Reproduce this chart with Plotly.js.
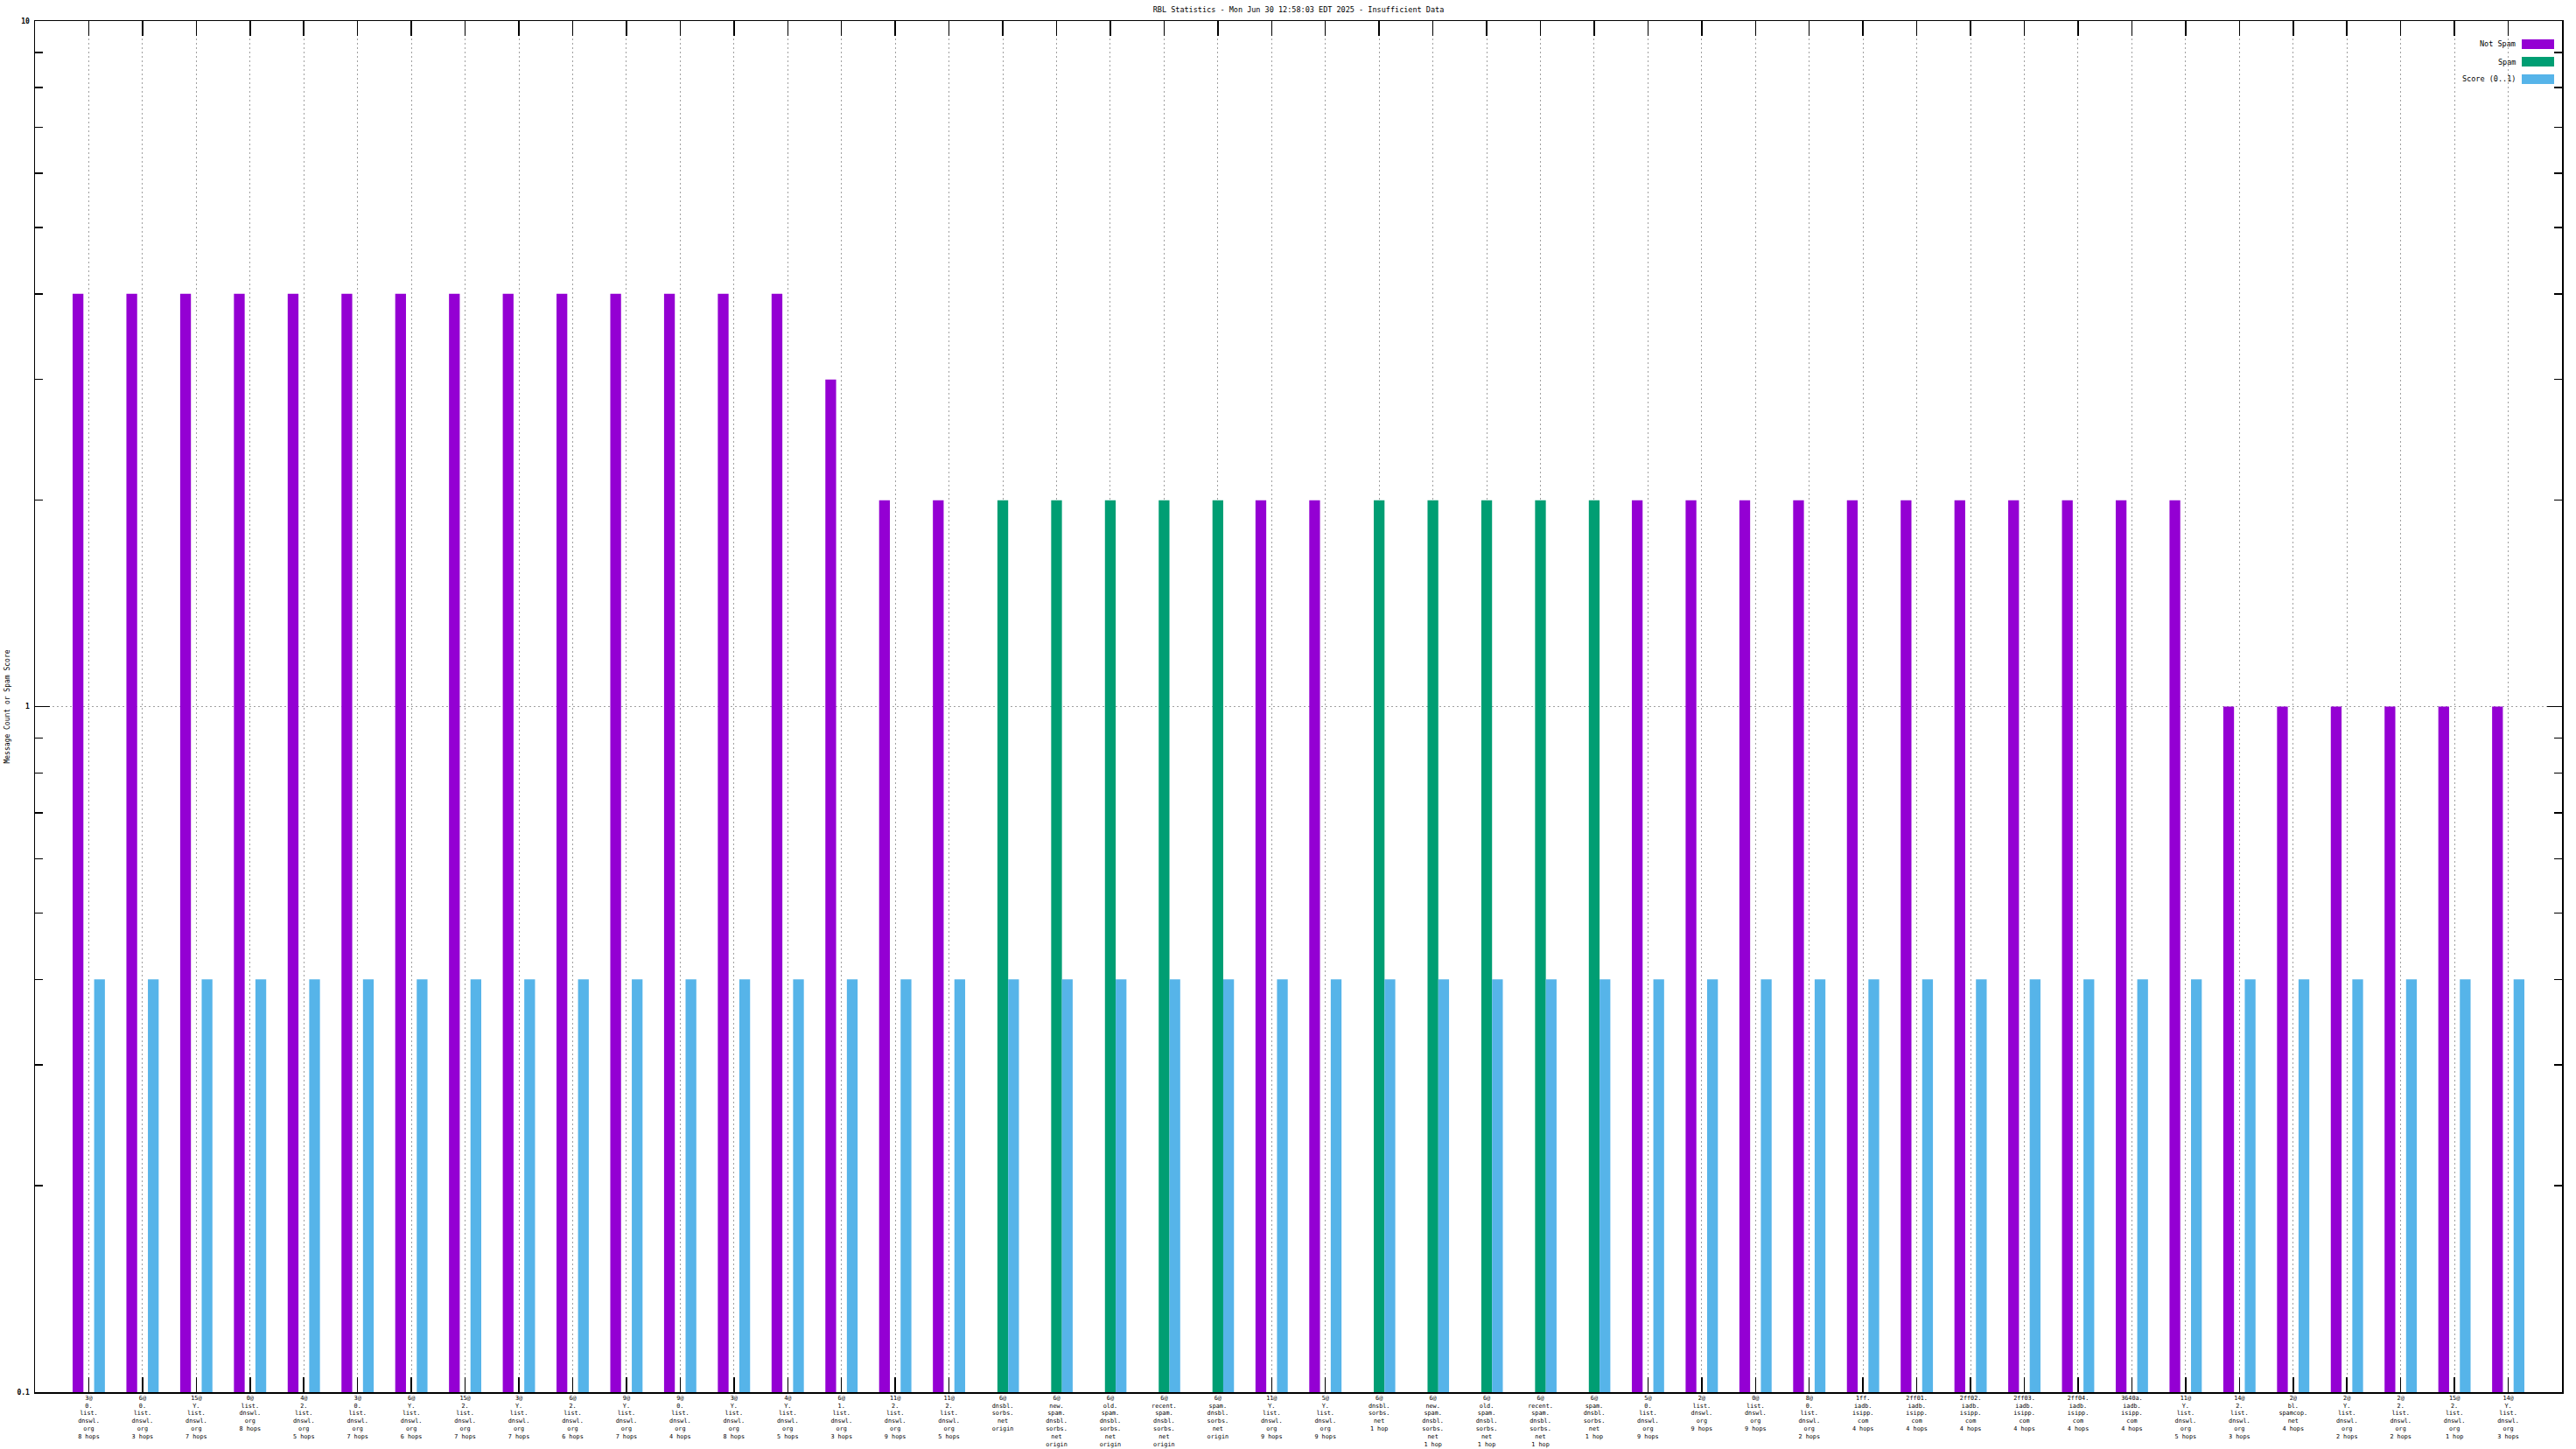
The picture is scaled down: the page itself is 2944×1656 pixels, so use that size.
<!DOCTYPE html>
<html>
<head>
<meta charset="utf-8">
<script src="https://cdn.plot.ly/plotly-3.0.1.min.js"></script>
<style>
html,body{margin:0;padding:0;background:#fff;}
#chart{width:2944px;height:1656px;}
</style>
</head>
<body>
<div id="chart"></div>
<script>
// ---- data ----
const categories = [
  "3@<br>0.<br>list.<br>dnswl.<br>org<br>8 hops",
  "6@<br>0.<br>list.<br>dnswl.<br>org<br>3 hops",
  "15@<br>Y.<br>list.<br>dnswl.<br>org<br>7 hops",
  "0@<br>list.<br>dnswl.<br>org<br>8 hops",
  "4@<br>2.<br>list.<br>dnswl.<br>org<br>5 hops",
  "3@<br>0.<br>list.<br>dnswl.<br>org<br>7 hops",
  "6@<br>Y.<br>list.<br>dnswl.<br>org<br>6 hops",
  "15@<br>2.<br>list.<br>dnswl.<br>org<br>7 hops",
  "3@<br>Y.<br>list.<br>dnswl.<br>org<br>7 hops",
  "6@<br>2.<br>list.<br>dnswl.<br>org<br>6 hops",
  "9@<br>Y.<br>list.<br>dnswl.<br>org<br>7 hops",
  "9@<br>0.<br>list.<br>dnswl.<br>org<br>4 hops",
  "3@<br>Y.<br>list.<br>dnswl.<br>org<br>8 hops",
  "4@<br>Y.<br>list.<br>dnswl.<br>org<br>5 hops",
  "6@<br>1.<br>list.<br>dnswl.<br>org<br>3 hops",
  "11@<br>2.<br>list.<br>dnswl.<br>org<br>9 hops",
  "11@<br>2.<br>list.<br>dnswl.<br>org<br>5 hops",
  "6@<br>dnsbl.<br>sorbs.<br>net<br>origin",
  "6@<br>new.<br>spam.<br>dnsbl.<br>sorbs.<br>net<br>origin",
  "6@<br>old.<br>spam.<br>dnsbl.<br>sorbs.<br>net<br>origin",
  "6@<br>recent.<br>spam.<br>dnsbl.<br>sorbs.<br>net<br>origin",
  "6@<br>spam.<br>dnsbl.<br>sorbs.<br>net<br>origin",
  "11@<br>Y.<br>list.<br>dnswl.<br>org<br>9 hops",
  "5@<br>Y.<br>list.<br>dnswl.<br>org<br>9 hops",
  "6@<br>dnsbl.<br>sorbs.<br>net<br>1 hop",
  "6@<br>new.<br>spam.<br>dnsbl.<br>sorbs.<br>net<br>1 hop",
  "6@<br>old.<br>spam.<br>dnsbl.<br>sorbs.<br>net<br>1 hop",
  "6@<br>recent.<br>spam.<br>dnsbl.<br>sorbs.<br>net<br>1 hop",
  "6@<br>spam.<br>dnsbl.<br>sorbs.<br>net<br>1 hop",
  "5@<br>0.<br>list.<br>dnswl.<br>org<br>9 hops",
  "2@<br>list.<br>dnswl.<br>org<br>9 hops",
  "0@<br>list.<br>dnswl.<br>org<br>9 hops",
  "8@<br>0.<br>list.<br>dnswl.<br>org<br>2 hops",
  "1ff.<br>iadb.<br>isipp.<br>com<br>4 hops",
  "2ff01.<br>iadb.<br>isipp.<br>com<br>4 hops",
  "2ff02.<br>iadb.<br>isipp.<br>com<br>4 hops",
  "2ff03.<br>iadb.<br>isipp.<br>com<br>4 hops",
  "2ff04.<br>iadb.<br>isipp.<br>com<br>4 hops",
  "3640a.<br>iadb.<br>isipp.<br>com<br>4 hops",
  "11@<br>Y.<br>list.<br>dnswl.<br>org<br>5 hops",
  "14@<br>2.<br>list.<br>dnswl.<br>org<br>3 hops",
  "2@<br>bl.<br>spamcop.<br>net<br>4 hops",
  "2@<br>Y.<br>list.<br>dnswl.<br>org<br>2 hops",
  "2@<br>2.<br>list.<br>dnswl.<br>org<br>2 hops",
  "15@<br>2.<br>list.<br>dnswl.<br>org<br>1 hop",
  "14@<br>Y.<br>list.<br>dnswl.<br>org<br>3 hops"
];
const notSpam = [4,4,4,4,4,4,4,4,4,4,4,4,4,4,3,2,2,0,0,0,0,0,2,2,0,0,0,0,0,2,2,2,2,2,2,2,2,2,2,2,1,1,1,1,1,1];
const spam    = [0,0,0,0,0,0,0,0,0,0,0,0,0,0,0,0,0,2,2,2,2,2,0,0,2,2,2,2,2,0,0,0,0,0,0,0,0,0,0,0,0,0,0,0,0,0];
const score   = [0.4,0.4,0.4,0.4,0.4,0.4,0.4,0.4,0.4,0.4,0.4,0.4,0.4,0.4,0.4,0.4,0.4,0.4,0.4,0.4,0.4,0.4,0.4,0.4,0.4,0.4,0.4,0.4,0.4,0.4,0.4,0.4,0.4,0.4,0.4,0.4,0.4,0.4,0.4,0.4,0.4,0.4,0.4,0.4,0.4,0.4];
const seriesNames = ["Not Spam","Spam","Score (0..1)"];
const seriesColors = ["#9400d3","#009e73","#56b4e9"];
const yTickVals = [0.1,1,10];
const yTickText = ["0.1","1","10"];
const yMinorVals = [0.2,0.3,0.4,0.5,0.6,0.7,0.8,0.9,2,3,4,5,6,7,8,9];
const titleText = "RBL Statistics - Mon Jun 30 12:58:03 EDT 2025 - Insufficient Data";
const yTitleText = "Message Count or Spam Score";

// ---- chart ----
const FONT = "DejaVu Sans Mono, monospace";
const pos = v => (v > 0 ? v : null);
const seriesData = [notSpam, spam, score];
const traces = seriesData.map((vals, i) => ({
  type: 'bar',
  name: seriesNames[i],
  x: categories,
  y: vals.map(pos),
  marker: {color: seriesColors[i], line: {width: 0}},
  showlegend: false,
  hoverinfo: 'x+y+name'
}));

// manual legend (text left of swatch, gnuplot style)
const W = 2944, H = 1656;
const M = {l: 40, r: 16, t: 24, b: 65};
const pw = W - M.l - M.r, ph = H - M.t - M.b;
const px = x => (x - M.l) / pw;
const py = y => (H - M.b - y) / ph;
const shapes = [], annotations = [];
seriesNames.forEach((n, i) => {
  const top = 45 + i * 20;
  shapes.push({type: 'rect', xref: 'paper', yref: 'paper',
    x0: px(2882), x1: px(2919), y0: py(top + 11), y1: py(top),
    fillcolor: seriesColors[i], line: {width: 0}, layer: 'above'});
  annotations.push({xref: 'paper', yref: 'paper', x: px(2877), y: py(top + 5.5),
    xanchor: 'right', yanchor: 'middle', showarrow: false, text: n,
    font: {family: FONT, size: 8.5, color: '#000'}});
});

const layout = {
  width: W, height: H,
  margin: M,
  paper_bgcolor: '#fff', plot_bgcolor: '#fff',
  font: {family: FONT, size: 8, color: '#000'},
  title: {text: titleText, x: 0.5, xref: 'paper', xanchor: 'center',
          y: 1 - 11 / H, yref: 'container', yanchor: 'middle',
          font: {family: FONT, size: 8.5, color: '#000'}},
  barmode: 'group', bargap: 0.4, bargroupgap: 0,
  showlegend: false,
  xaxis: {
    type: 'category', range: [-1, categories.length],
    showline: true, linecolor: '#000', linewidth: 1.5, mirror: 'ticks',
    ticks: 'inside', ticklen: 17, tickwidth: 1.5, tickcolor: '#000',
    showgrid: true, gridcolor: '#a0a0a0', gridwidth: 1, griddash: '2px,3px',
    tickangle: 0, tickfont: {family: FONT, size: 6.8, color: '#000'},
    ticklabelstandoff: -1,
    layer: 'below traces', zeroline: false, automargin: false, fixedrange: true
  },
  yaxis: {
    type: 'log', range: [-1, 1],
    tickmode: 'array', tickvals: yTickVals, ticktext: yTickText,
    showline: true, linecolor: '#000', linewidth: 1.5, mirror: 'ticks',
    ticks: 'inside', ticklen: 17, tickwidth: 1.5, tickcolor: '#000',
    minor: {tickmode: 'array', tickvals: yMinorVals, ticks: 'inside', ticklen: 9,
            tickwidth: 1.5, tickcolor: '#000', showgrid: false},
    showgrid: true, gridcolor: '#a0a0a0', gridwidth: 1, griddash: '2px,3px',
    tickfont: {family: FONT, size: 8, color: '#000', weight: 'bold'},
    ticklabelstandoff: 3,
    title: {text: yTitleText, standoff: 6, font: {family: FONT, size: 8, color: '#000'}},
    zeroline: false, automargin: false, fixedrange: true
  },
  shapes: shapes,
  annotations: annotations
};

Plotly.newPlot('chart', traces, layout, {displayModeBar: false, staticPlot: true});
</script>
</body>
</html>
